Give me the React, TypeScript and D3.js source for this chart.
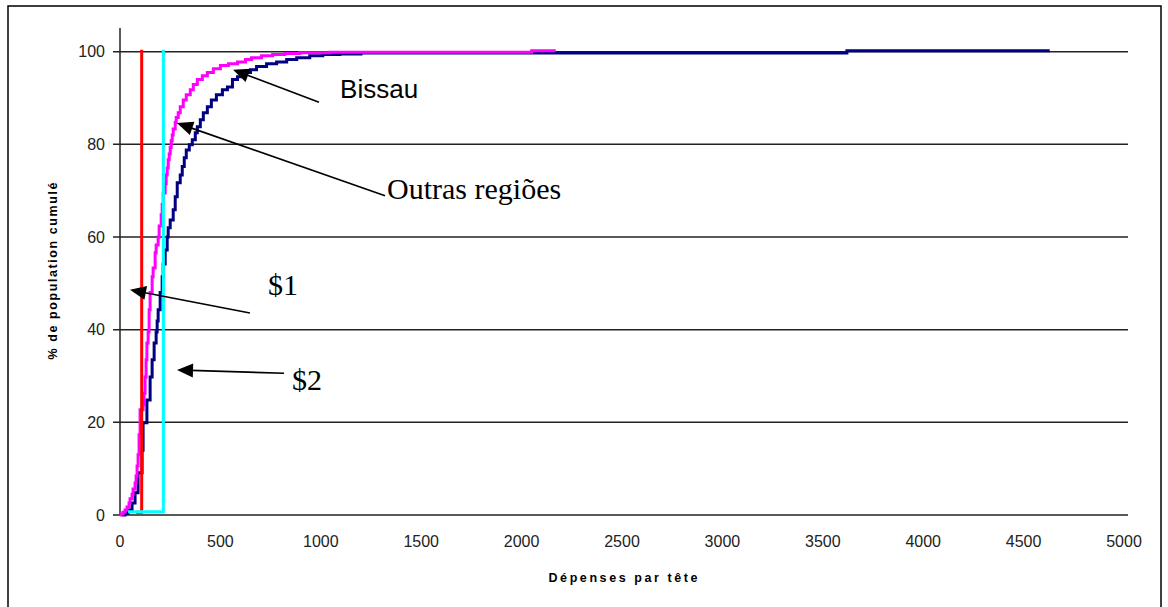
import React from 'react'
import * as d3 from 'd3'

// cumulative distribution (x = dépenses, y = % population)
const bissauX = [10, 25, 40, 60, 75, 90, 110, 115, 134, 150, 160, 170, 180, 185, 190, 200, 210, 215, 225, 235, 240, 250, 265, 275, 285, 300, 310, 320, 330, 345, 360, 375, 385, 400, 415, 435, 455, 480, 510, 535, 560, 585, 610, 650, 680, 730, 780, 830, 880, 945, 1010, 1095, 1200, 3620, 4630]
const bissauY = [0, 0.4, 1.1, 2.6, 4.8, 9.1, 14, 19.9, 24.8, 29.8, 33.5, 37.1, 39.5, 41.9, 44.3, 48, 51.4, 54.2, 57.2, 60, 62, 63.7, 65.9, 68.7, 71.7, 73.4, 75.2, 77.1, 78.8, 79.9, 81, 82.5, 83.8, 85.3, 86.8, 88.1, 89.6, 90.7, 91.8, 92.4, 94, 94.6, 95.5, 96.1, 96.8, 97.4, 97.8, 98.3, 98.7, 99.1, 99.4, 99.5, 99.7, 100.2, 100.2]

const outrasX = [0, 5, 15, 25, 35, 45, 50, 60, 65, 75, 80, 85, 90, 95, 100, 115, 120, 125, 130, 134, 140, 145, 150, 160, 165, 175, 180, 190, 195, 205, 210, 215, 225, 230, 235, 240, 245, 250, 255, 260, 265, 275, 280, 290, 300, 315, 330, 350, 365, 385, 410, 435, 465, 500, 540, 585, 625, 655, 705, 760, 820, 895, 1045, 2050, 2170]
const outrasY = [0, 0.2, 0.6, 1.1, 1.7, 2.6, 3.5, 4.5, 5.6, 6.9, 8.4, 10.6, 13, 17.3, 22.7, 23.8, 26.3, 29.8, 33.5, 37.1, 39.5, 44.3, 48, 51.4, 53.3, 56.6, 58.3, 60, 62.4, 64.8, 67, 69.5, 71.5, 73.4, 74.9, 76.7, 77.9, 79.3, 80.8, 82, 83.3, 84.7, 85.8, 86.8, 88.1, 89.6, 90.7, 91.8, 92.9, 94, 94.8, 95.5, 96.3, 97, 97.4, 97.8, 98.3, 98.7, 99.1, 99.4, 99.6, 99.8, 99.9, 100.2, 100.2]

// poverty lines ($1 and $2 a day)
const oneDollarX = [80, 108, 108]
const oneDollarY = [0.6, 0.6, 100.4]
const twoDollarX = [40, 216, 216]
const twoDollarY = [0.7, 0.7, 100.4]

const xTicks = [0, 500, 1000, 1500, 2000, 2500, 3000, 3500, 4000, 4500, 5000]
const yTicks = [0, 20, 40, 60, 80, 100]

// annotation arrows: label, tail, tip and label anchor in data units
const serif = '"Times New Roman", "Liberation Serif", serif'
const notes = [
  { text: 'Bissau', from: [991, 89.1], to: [563, 96.1], at: [1096, 90], font: 'Arial, "Liberation Sans", sans-serif', size: 26 },
  { text: 'Outras regiões', from: [1320, 68.9], to: [284, 84.6], at: [1330, 68.2], font: serif, size: 30 },
  { text: '$1', from: [647, 43.6], to: [50, 48.6], at: [737, 47.5], font: serif, size: 30 },
  { text: '$2', from: [817, 30.6], to: [284, 31.3], at: [857, 27], font: serif, size: 30 }
]

const zip = (xs: number[], ys: number[]) => xs.map((v, i) => [v, ys[i]] as [number, number])

export default function App() {
  const width = 1168
  const height = 607

  const x = d3.scaleLinear().domain([0, 5000]).range([120, 1124])
  const y = d3.scaleLinear().domain([0, 100]).range([515, 51.7])

  const step = d3
    .line<[number, number]>()
    .x(d => x(d[0]))
    .y(d => y(d[1]))
    .curve(d3.curveStepAfter)
  const straight = d3
    .line<[number, number]>()
    .x(d => x(d[0]))
    .y(d => y(d[1]))

  const sans = 'Arial, "Liberation Sans", sans-serif'

  const arrow = (n: typeof notes[number], i: number) => {
    const x1 = x(n.from[0])
    const y1 = y(n.from[1])
    const x2 = x(n.to[0])
    const y2 = y(n.to[1])
    const len = Math.hypot(x2 - x1, y2 - y1)
    const ux = (x2 - x1) / len
    const uy = (y2 - y1) / len
    const hl = 16
    const hw = 7
    const bx = x2 - ux * hl
    const by = y2 - uy * hl
    const head = `M${x2},${y2}L${bx - uy * hw},${by + ux * hw}L${bx + uy * hw},${by - ux * hw}Z`
    return (
      <g key={i}>
        <line x1={x1} y1={y1} x2={bx + ux * 2} y2={by + uy * 2} stroke="#000" strokeWidth={1.7} />
        <path d={head} fill="#000" />
        <text x={x(n.at[0])} y={y(n.at[1])} fontFamily={n.font} fontSize={n.size} fill="#000">
          {n.text}
        </text>
      </g>
    )
  }

  return (
    <svg
      width={width}
      height={height}
      style={{ position: 'absolute', left: 0, top: 0, background: '#fff' }}
    >
      <rect x={8} y={6} width={1153} height={610} fill="#fff" stroke="#000" strokeWidth={1.5} />

      {/* grid */}
      {yTicks.map(t => (
        <line key={t} x1={113} x2={1128} y1={y(t)} y2={y(t)} stroke="#222" strokeWidth={1.5} />
      ))}
      <line x1={120} x2={120} y1={28} y2={515} stroke="#222" strokeWidth={1.5} />

      {yTicks.map(t => (
        <text key={t} x={105} y={y(t) + 5.5} textAnchor="end" fontFamily={sans} fontSize={16} fill="#222">
          {t}
        </text>
      ))}
      {xTicks.map(t => (
        <text key={t} x={x(t)} y={547} textAnchor="middle" fontFamily={sans} fontSize={16} fill="#222">
          {t}
        </text>
      ))}

      <text
        x={623}
        y={582}
        textAnchor="middle"
        fontFamily={sans}
        fontWeight={900}
        fontSize={12.5}
        textLength={149}
        lengthAdjust="spacing"
      >
        Dépenses par tête
      </text>
      <text
        transform="translate(57,271) rotate(-90)"
        textAnchor="middle"
        fontFamily={sans}
        fontWeight={900}
        fontSize={12.5}
        textLength={177}
        lengthAdjust="spacing"
      >
        % de population cumulé
      </text>

      {/* series */}
      <path d={step(zip(bissauX, bissauY)) || ''} fill="none" stroke="#000080" strokeWidth={3} />
      <path d={step(zip(outrasX, outrasY)) || ''} fill="none" stroke="#ff00ff" strokeWidth={3} />
      <path d={straight(zip(oneDollarX, oneDollarY)) || ''} fill="none" stroke="#ff0000" strokeWidth={3} />
      <path d={straight(zip(twoDollarX, twoDollarY)) || ''} fill="none" stroke="#00ffff" strokeWidth={3} />

      {notes.map(arrow)}
    </svg>
  )
}
